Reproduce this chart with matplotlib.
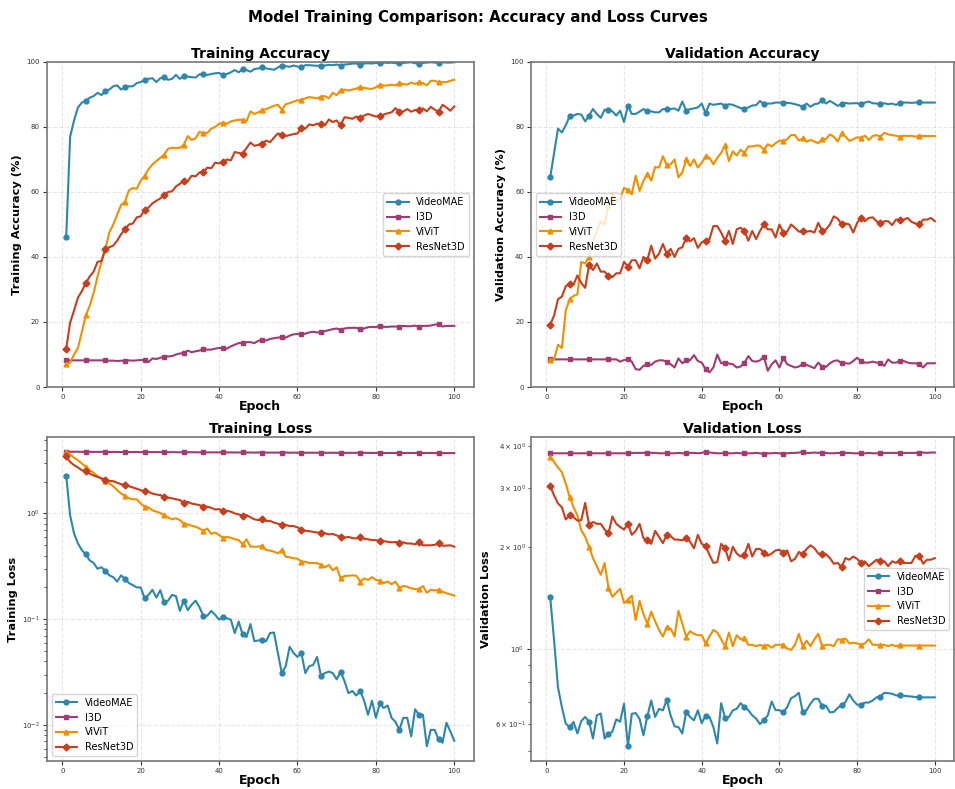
import numpy as np
import matplotlib
matplotlib.use("Agg")
import matplotlib.pyplot as plt

# ============================================
# DATE
# ============================================
models = ["VideoMAE", "I3D", "ViViT", "ResNet3D"]
colors = ["#2E86AB", "#A23B72", "#F18F01", "#C73E1D"]
markers = ["o", "s", "^", "D"]
epochs = np.arange(1, 101)

train_acc_videomae = [
    46.0, 77.0, 82.0, 86.0, 87.5, 88.0, 89.0, 89.5, 90.5, 89.8,
    91.0, 91.5, 92.5, 92.8, 91.5, 92.3, 92.5, 92.5, 93.5, 93.8,
    94.5, 94.8, 95.0, 93.8, 95.0, 95.3, 94.5, 94.8, 96.0, 94.8,
    95.6, 95.5, 95.3, 95.2, 96.2, 96.2, 96.0, 96.3, 96.5, 96.6,
    96.0, 96.3, 96.8, 97.5, 96.8, 97.8, 97.5, 97.0, 97.8, 98.0,
    98.3, 98.0, 97.8, 97.6, 98.3, 98.9, 98.7, 98.5, 98.9, 98.6,
    98.4, 99.0, 99.0, 98.9, 98.8, 98.9, 98.9, 99.1, 99.0, 99.2,
    98.9, 99.2, 99.3, 99.5, 99.5, 99.2, 99.5, 99.6, 99.5, 99.7,
    99.6, 99.8, 99.7, 99.8, 99.6, 99.8, 99.7, 99.8, 99.9, 99.6,
    99.5, 99.7, 99.8, 99.9, 99.8, 99.7, 99.9, 99.8, 99.8, 99.9,
]
train_acc_i3d = [
    8.2, 8.2, 8.2, 8.2, 8.2, 8.2, 8.2, 8.2, 8.2, 8.2,
    8.2, 8.1, 8.1, 8.0, 8.1, 8.0, 8.2, 8.1, 8.2, 8.3,
    8.3, 7.7, 8.8, 8.6, 9.0, 9.3, 9.4, 9.5, 10.0, 10.3,
    10.5, 11.2, 10.7, 11.0, 11.2, 11.7, 11.5, 11.5, 11.8, 12.0,
    12.0, 11.8, 12.5, 13.0, 13.5, 13.5, 13.8, 13.8, 13.5, 14.2,
    14.5, 14.3, 14.8, 15.0, 15.2, 15.3, 15.2, 15.8, 16.2, 16.3,
    16.2, 16.4, 16.8, 17.0, 16.8, 16.8, 17.2, 17.5, 17.8, 18.0,
    17.5, 18.0, 18.2, 18.2, 18.2, 17.8, 18.0, 18.4, 18.5, 18.4,
    18.8, 18.5, 18.5, 18.6, 18.6, 18.5, 18.8, 18.7, 18.7, 18.9,
    18.5, 18.8, 18.8, 18.9, 19.2, 19.3, 18.6, 18.8, 18.8, 18.8,
]
train_acc_vivit = [
    7.0, 7.5, 10.0, 12.0, 17.0, 22.0, 25.0, 29.0, 34.0, 38.5,
    42.5, 47.5, 50.0, 53.0, 56.0, 57.0, 60.5, 61.2, 61.0, 63.5,
    65.0, 67.0, 68.5, 69.5, 70.5, 71.5, 73.3, 73.6, 73.5, 73.6,
    74.5, 77.2, 76.0, 76.5, 78.5, 78.0, 78.2, 79.5, 80.0, 81.0,
    81.3, 81.0, 81.7, 82.0, 82.2, 82.2, 81.8, 84.8, 84.0, 84.5,
    85.2, 85.5, 86.0, 86.5, 86.8, 85.3, 87.0, 87.3, 87.8, 88.2,
    88.3, 88.8, 89.2, 89.0, 88.8, 89.3, 89.5, 88.8, 90.5, 89.8,
    91.3, 91.5, 91.2, 91.5, 91.8, 92.3, 92.0, 91.8, 91.7, 92.2,
    93.0, 92.7, 92.8, 93.0, 92.8, 93.5, 93.2, 93.0, 93.7, 93.2,
    93.8, 93.5, 92.8, 94.2, 94.2, 93.7, 93.8, 93.8, 94.2, 94.5,
]
train_acc_resnet = [
    11.7, 19.8, 23.5, 27.5, 29.5, 32.0, 34.0, 35.5, 38.5, 38.8,
    42.5, 43.0, 43.5, 45.0, 47.0, 48.5, 50.0, 50.3, 52.2, 52.5,
    54.5, 55.2, 56.5, 57.3, 58.0, 59.0, 60.0, 60.2, 61.7, 62.5,
    63.5, 63.3, 65.0, 64.8, 66.0, 66.2, 67.5, 67.3, 69.0, 68.8,
    69.1, 70.0, 69.7, 72.3, 72.0, 71.8, 73.5, 75.2, 74.2, 74.5,
    74.8, 75.8, 75.3, 76.7, 78.0, 77.6, 77.2, 77.5, 77.8, 78.0,
    79.8, 79.5, 80.8, 80.5, 81.0, 80.8, 80.5, 82.3, 81.5, 82.0,
    80.5, 83.0, 82.8, 82.5, 83.2, 82.8, 83.5, 84.0, 83.6, 83.2,
    83.5, 83.8, 84.2, 84.5, 85.8, 84.5, 84.8, 85.5, 84.7, 85.2,
    85.3, 85.7, 84.8, 86.2, 85.3, 84.7, 86.8, 86.0, 85.0, 86.3,
]

val_acc_videomae = [
    64.5, 72.0, 79.5, 78.3, 80.5, 83.3, 83.5, 84.0, 83.8, 81.7,
    83.5, 85.5, 84.0, 82.8, 85.3, 85.3, 84.8, 83.5, 85.0, 81.5,
    86.5, 84.0, 84.0, 84.7, 85.5, 84.8, 84.8, 84.5, 84.5, 85.5,
    85.5, 85.5, 85.7, 85.0, 87.8, 85.0, 85.5, 85.7, 86.0, 87.2,
    84.2, 87.2, 86.8, 87.0, 87.2, 86.5, 87.0, 86.8, 86.3, 85.8,
    85.6, 86.0, 86.6, 86.7, 88.0, 87.0, 87.2, 87.2, 87.5, 87.5,
    87.5, 87.4, 87.3, 87.0, 86.7, 86.2, 87.2, 86.2, 87.0, 87.2,
    88.2, 87.2, 88.0, 87.3, 86.5, 87.0, 87.4, 87.2, 87.3, 87.3,
    87.0, 87.5, 87.8, 87.3, 87.2, 87.0, 87.3, 87.0, 87.2, 86.8,
    87.3, 87.5, 87.5, 87.4, 87.5, 87.6, 87.5, 87.5, 87.5, 87.5,
]
val_acc_i3d = [
    8.5, 8.5, 8.5, 8.5, 8.5, 8.5, 8.5, 8.5, 8.5, 8.5,
    8.5, 8.5, 8.5, 8.5, 8.5, 8.5, 8.5, 8.5, 7.8, 8.3,
    8.5, 7.8, 5.5, 5.3, 6.5, 7.0, 6.8, 7.8, 8.2, 8.2,
    7.8, 7.0, 6.0, 8.8, 7.3, 8.2, 8.2, 9.8, 8.0, 7.5,
    5.5, 4.5, 6.0, 10.0, 7.3, 7.5, 7.2, 7.0, 6.0, 6.3,
    7.5, 9.5, 8.0, 7.8, 8.2, 9.3, 5.0, 7.0, 8.2, 6.0,
    9.0, 7.0, 6.5, 6.0, 6.3, 7.0, 6.8, 6.3, 5.8, 7.5,
    6.3, 6.2, 7.3, 8.0, 8.2, 7.3, 7.3, 7.2, 8.0, 9.0,
    8.0, 7.5, 7.5, 7.8, 7.5, 7.5, 6.5, 8.5, 7.5, 7.5,
    8.0, 8.0, 7.5, 7.3, 7.3, 7.0, 6.0, 7.3, 7.3, 7.3,
]
val_acc_vivit = [
    8.3, 8.5, 13.0, 12.0, 23.5, 27.0, 28.0, 28.5, 38.5, 38.0,
    40.0, 45.0, 48.0, 51.0, 50.0, 56.0, 59.5, 57.0, 58.0, 61.3,
    60.5, 59.3, 65.0, 60.3, 63.5, 65.5, 63.5, 67.7, 67.5, 71.0,
    68.2, 68.5, 70.0, 64.5, 66.0, 70.0, 68.0, 70.0, 67.5, 69.0,
    71.0, 70.5, 68.5, 70.5, 72.0, 74.3, 69.5, 72.5, 71.2, 73.0,
    72.0, 74.0, 74.0, 74.3, 74.2, 73.0, 74.7, 74.0, 75.0, 75.8,
    75.7, 76.2, 77.5, 77.5, 75.8, 76.5, 75.5, 76.0, 75.5, 75.0,
    76.3, 76.3, 77.7, 77.0, 75.5, 78.0, 77.0, 75.7, 76.2, 76.8,
    76.7, 77.3, 76.0, 77.2, 77.5, 77.0, 78.2, 77.7, 77.5, 77.3,
    77.0, 77.3, 77.2, 77.3, 77.0, 77.3, 77.2, 77.2, 77.2, 77.2,
]
val_acc_resnet = [
    19.2, 22.0, 27.0, 27.8, 31.0, 31.7, 31.5, 34.3, 32.0, 30.5,
    37.5, 36.0, 38.0, 35.5, 35.5, 34.0, 33.8, 35.0, 35.0, 38.5,
    37.0, 39.0, 39.0, 36.5, 40.0, 39.0, 43.5, 39.5, 41.0, 44.0,
    41.0, 42.5, 40.0, 42.5, 43.0, 45.8, 44.8, 45.8, 42.8, 44.5,
    45.0, 45.5, 49.5, 49.5, 47.5, 45.0, 48.0, 44.0, 48.5, 49.0,
    48.0, 45.0, 48.0, 45.5, 48.0, 50.0, 48.5, 48.5, 46.0, 50.0,
    47.5, 47.8, 50.0, 49.0, 47.8, 48.0, 47.8, 48.0, 47.5, 50.5,
    48.0, 48.5, 50.0, 52.5, 51.8, 50.0, 50.3, 50.0, 47.5, 50.5,
    52.0, 51.0, 52.0, 52.2, 51.0, 50.3, 51.0, 51.0, 49.8, 51.5,
    51.5, 51.5, 52.0, 50.8, 50.3, 50.0, 51.5, 51.5, 52.0, 51.0,
]

train_loss_videomae = [
    2.28, 0.96, 0.648, 0.52, 0.45, 0.41, 0.36, 0.34, 0.30, 0.31,
    0.286, 0.26, 0.25, 0.227, 0.26, 0.24, 0.22, 0.21, 0.20, 0.20,
    0.158, 0.17, 0.19, 0.16, 0.188, 0.144, 0.15, 0.17, 0.165, 0.12,
    0.15, 0.122, 0.137, 0.15, 0.13, 0.107, 0.108, 0.12, 0.11, 0.099,
    0.106, 0.102, 0.099, 0.074, 0.095, 0.072, 0.068, 0.09, 0.062, 0.063,
    0.064, 0.062, 0.074, 0.075, 0.048, 0.031, 0.036, 0.055, 0.048, 0.044,
    0.048, 0.031, 0.036, 0.037, 0.044, 0.029, 0.031, 0.032, 0.031, 0.027,
    0.032, 0.026, 0.020, 0.021, 0.019, 0.021, 0.017, 0.0125, 0.017, 0.0117,
    0.016, 0.0145, 0.0153, 0.0117, 0.0107, 0.0090, 0.0117, 0.0117, 0.0078, 0.0141,
    0.0125, 0.0125, 0.0063, 0.009, 0.009, 0.0073, 0.0068, 0.0105, 0.0087, 0.0071,
]
train_loss_i3d = [
    3.83, 3.83, 3.83, 3.83, 3.82, 3.83, 3.82, 3.82, 3.82, 3.82,
    3.82, 3.81, 3.82, 3.81, 3.81, 3.81, 3.81, 3.80, 3.81, 3.80,
    3.81, 3.80, 3.80, 3.80, 3.80, 3.80, 3.79, 3.80, 3.79, 3.79,
    3.79, 3.79, 3.79, 3.79, 3.78, 3.79, 3.78, 3.78, 3.78, 3.78,
    3.78, 3.77, 3.78, 3.77, 3.77, 3.77, 3.77, 3.77, 3.76, 3.77,
    3.76, 3.76, 3.76, 3.76, 3.76, 3.76, 3.76, 3.75, 3.76, 3.75,
    3.75, 3.75, 3.75, 3.75, 3.75, 3.75, 3.75, 3.74, 3.75, 3.74,
    3.74, 3.74, 3.74, 3.74, 3.74, 3.74, 3.74, 3.74, 3.73, 3.74,
    3.74, 3.73, 3.73, 3.73, 3.73, 3.73, 3.73, 3.73, 3.73, 3.73,
    3.73, 3.73, 3.73, 3.73, 3.72, 3.73, 3.72, 3.72, 3.72, 3.72,
]
train_loss_vivit = [
    3.82, 3.60, 3.37, 3.18, 2.96, 2.75, 2.56, 2.42, 2.25, 2.12,
    2.03, 1.92, 1.81, 1.66, 1.54, 1.47, 1.39, 1.36, 1.36, 1.24,
    1.16, 1.14, 1.07, 1.04, 1.01, 0.96, 0.92, 0.88, 0.90, 0.865,
    0.80, 0.79, 0.765, 0.75, 0.72, 0.686, 0.72, 0.64, 0.66, 0.625,
    0.59, 0.60, 0.59, 0.57, 0.56, 0.51, 0.57, 0.485, 0.485, 0.485,
    0.495, 0.45, 0.445, 0.435, 0.42, 0.45, 0.39, 0.385, 0.377, 0.374,
    0.35, 0.35, 0.34, 0.34, 0.34, 0.326, 0.31, 0.326, 0.29, 0.31,
    0.243, 0.256, 0.258, 0.26, 0.258, 0.227, 0.243, 0.235, 0.25, 0.235,
    0.232, 0.22, 0.227, 0.214, 0.227, 0.196, 0.207, 0.203, 0.196, 0.193,
    0.192, 0.206, 0.178, 0.19, 0.187, 0.19, 0.182, 0.176, 0.172, 0.167,
]
train_loss_resnet = [
    3.47, 3.07, 2.86, 2.72, 2.56, 2.51, 2.38, 2.28, 2.22, 2.15,
    2.09, 2.03, 2.02, 1.95, 1.89, 1.85, 1.81, 1.76, 1.71, 1.66,
    1.62, 1.60, 1.54, 1.51, 1.49, 1.44, 1.41, 1.39, 1.36, 1.34,
    1.26, 1.29, 1.24, 1.22, 1.20, 1.16, 1.16, 1.13, 1.09, 1.10,
    1.06, 1.06, 1.04, 1.00, 0.98, 0.95, 0.965, 0.92, 0.88, 0.865,
    0.88, 0.85, 0.85, 0.82, 0.80, 0.78, 0.78, 0.76, 0.76, 0.74,
    0.70, 0.686, 0.68, 0.67, 0.66, 0.66, 0.65, 0.634, 0.64, 0.62,
    0.60, 0.59, 0.60, 0.585, 0.58, 0.60, 0.577, 0.57, 0.56, 0.56,
    0.55, 0.548, 0.54, 0.533, 0.537, 0.53, 0.533, 0.52, 0.52, 0.51,
    0.537, 0.50, 0.50, 0.50, 0.505, 0.52, 0.495, 0.497, 0.50, 0.485,
]

val_loss_videomae = [
    1.425, 1.06, 0.771, 0.674, 0.602, 0.588, 0.609, 0.563, 0.613, 0.63,
    0.61, 0.544, 0.637, 0.645, 0.544, 0.56, 0.57, 0.62, 0.61, 0.69,
    0.516, 0.644, 0.647, 0.622, 0.556, 0.633, 0.705, 0.63, 0.666, 0.659,
    0.708, 0.636, 0.591, 0.588, 0.563, 0.651, 0.63, 0.616, 0.659, 0.604,
    0.636, 0.63, 0.588, 0.526, 0.692, 0.626, 0.63, 0.659, 0.666, 0.692,
    0.674, 0.66, 0.637, 0.623, 0.60, 0.617, 0.637, 0.70, 0.66, 0.66,
    0.65, 0.674, 0.716, 0.726, 0.743, 0.652, 0.66, 0.69, 0.713, 0.713,
    0.678, 0.68, 0.65, 0.652, 0.67, 0.685, 0.697, 0.735, 0.705, 0.685,
    0.685, 0.695, 0.695, 0.705, 0.72, 0.724, 0.743, 0.741, 0.738, 0.73,
    0.73, 0.728, 0.726, 0.724, 0.722, 0.72, 0.72, 0.72, 0.72, 0.72,
]
val_loss_i3d = [
    3.80, 3.80, 3.80, 3.80, 3.80, 3.80, 3.80, 3.80, 3.80, 3.80,
    3.80, 3.80, 3.80, 3.80, 3.80, 3.80, 3.80, 3.80, 3.80, 3.80,
    3.80, 3.81, 3.81, 3.81, 3.81, 3.82, 3.81, 3.81, 3.80, 3.80,
    3.81, 3.80, 3.80, 3.81, 3.80, 3.80, 3.81, 3.81, 3.80, 3.81,
    3.84, 3.82, 3.81, 3.80, 3.80, 3.81, 3.80, 3.80, 3.81, 3.80,
    3.80, 3.80, 3.80, 3.81, 3.80, 3.78, 3.80, 3.80, 3.81, 3.80,
    3.78, 3.80, 3.81, 3.81, 3.82, 3.83, 3.81, 3.81, 3.82, 3.81,
    3.82, 3.81, 3.80, 3.80, 3.81, 3.80, 3.81, 3.81, 3.80, 3.80,
    3.80, 3.80, 3.81, 3.80, 3.80, 3.81, 3.81, 3.81, 3.81, 3.81,
    3.81, 3.81, 3.81, 3.81, 3.81, 3.82, 3.82, 3.81, 3.82, 3.82,
]
val_loss_vivit = [
    3.71, 3.58, 3.45, 3.34, 3.09, 2.82, 2.63, 2.49, 2.25, 2.15,
    2.01, 1.86, 1.76, 1.66, 1.80, 1.52, 1.43, 1.47, 1.51, 1.37,
    1.40, 1.44, 1.22, 1.39, 1.27, 1.19, 1.29, 1.21, 1.14, 1.09,
    1.16, 1.15, 1.09, 1.30, 1.19, 1.09, 1.13, 1.11, 1.10, 1.10,
    1.04, 1.09, 1.14, 1.12, 1.07, 1.02, 1.12, 1.02, 1.10, 1.07,
    1.08, 1.03, 1.03, 1.02, 1.03, 1.02, 1.03, 1.01, 1.03, 1.03,
    1.03, 1.005, 0.995, 1.03, 1.11, 1.02, 1.06, 1.02, 1.07, 1.11,
    1.02, 1.03, 1.03, 1.02, 1.07, 1.065, 1.075, 1.04, 1.045, 1.04,
    1.03, 1.04, 1.07, 1.03, 1.03, 1.03, 1.03, 1.02, 1.03, 1.02,
    1.03, 1.025, 1.025, 1.025, 1.025, 1.025, 1.025, 1.025, 1.025, 1.025,
]
val_loss_resnet = [
    3.04, 2.85, 2.70, 2.63, 2.42, 2.49, 2.46, 2.40, 2.41, 2.71,
    2.33, 2.38, 2.35, 2.35, 2.26, 2.20, 2.47, 2.35, 2.30, 2.26,
    2.35, 2.18, 2.24, 2.35, 2.13, 2.10, 2.05, 2.24, 2.15, 2.06,
    2.18, 2.16, 2.11, 2.11, 2.10, 2.13, 2.08, 1.99, 2.18, 2.05,
    2.02, 1.90, 1.80, 1.81, 2.05, 1.99, 1.83, 2.01, 1.92, 1.88,
    1.90, 2.05, 1.88, 1.98, 1.98, 1.93, 1.89, 1.92, 1.96, 1.97,
    1.93, 1.96, 1.82, 1.85, 1.94, 1.91, 1.98, 2.03, 1.99, 1.92,
    1.91, 1.91, 1.86, 1.79, 1.80, 1.75, 1.86, 1.84, 1.88, 1.85,
    1.80, 1.82, 1.76, 1.80, 1.84, 1.82, 1.82, 1.76, 1.82, 1.80,
    1.83, 1.80, 1.80, 1.80, 1.89, 1.89, 1.79, 1.84, 1.84, 1.86,
]

# ============================================
# FIGURA
# ============================================
fig = plt.figure(figsize=(9.55, 7.89), dpi=100)
fig.patch.set_facecolor("white")

ax_ta = fig.add_axes([0.049, 0.5095, 0.447, 0.412])
ax_va = fig.add_axes([0.556, 0.5095, 0.443, 0.412])
ax_tl = fig.add_axes([0.049, 0.0355, 0.447, 0.4106])
ax_vl = fig.add_axes([0.556, 0.0355, 0.443, 0.4106])

panels = [
    (ax_ta, [train_acc_videomae, train_acc_i3d, train_acc_vivit, train_acc_resnet],
     "Training Accuracy", "Training Accuracy (%)", "center right", False),
    (ax_va, [val_acc_videomae, val_acc_i3d, val_acc_vivit, val_acc_resnet],
     "Validation Accuracy", "Validation Accuracy (%)", "center left", False),
    (ax_tl, [train_loss_videomae, train_loss_i3d, train_loss_vivit, train_loss_resnet],
     "Training Loss", "Training Loss", "lower left", True),
    (ax_vl, [val_loss_videomae, val_loss_i3d, val_loss_vivit, val_loss_resnet],
     "Validation Loss", "Validation Loss", "center right", True),
]

for ax, series, title, ylabel, loc, logy in panels:
    for name, vals, c, m in zip(models, series, colors, markers):
        ax.plot(epochs, vals, color=c, marker=m, markevery=5,
                linewidth=1.5, markersize=3.5, label=name)
    if logy:
        ax.set_yscale("log")
    else:
        ax.set_ylim(0, 100)
    ax.set_xticks([0, 20, 40, 60, 80, 100])
    ax.set_title(title, fontsize=10, fontweight="bold", pad=3)
    ax.set_xlabel("Epoch", fontsize=9, fontweight="bold", labelpad=0)
    ax.set_ylabel(ylabel, fontsize=8.2, fontweight="bold", labelpad=3)
    ax.tick_params(which="both", labelsize=5, colors="#333333", pad=2)
    ax.tick_params(which="major", length=3, width=0.8)
    ax.tick_params(which="minor", length=2, width=0.6)
    ax.grid(True, which="major", linestyle="--", alpha=0.3)
    for spine in ax.spines.values():
        spine.set_edgecolor("#777777")
        spine.set_linewidth(1.2)
    ax.legend(loc=loc, fontsize=7, handlelength=2.2)

fig.suptitle("Model Training Comparison: Accuracy and Loss Curves",
             fontsize=10.8, fontweight="bold", y=0.978, va="center")

fig.savefig("out.png", dpi=100)
